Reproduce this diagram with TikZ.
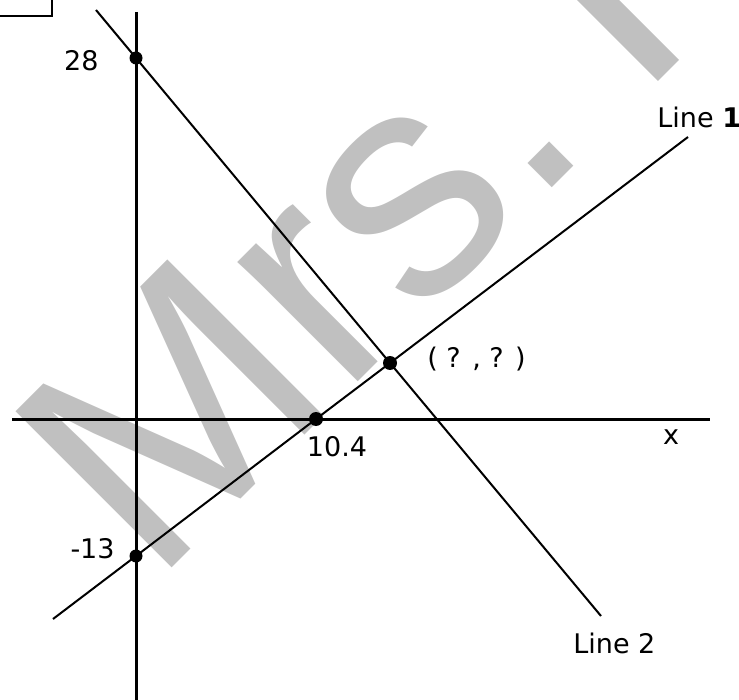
\documentclass[tikz,border=0pt]{standalone}
\usepackage{fontspec}
\setmainfont{DejaVu Sans}
\newfontfamily\markfont{Liberation Sans}
\usepackage{tikz}
\usetikzlibrary{positioning}
\definecolor{markGray}{RGB}{192,192,192}

\begin{document}
\begin{tikzpicture}[x=0.5pt, y=-0.5pt,
    dot/.style={circle, fill=black, inner sep=0pt, minimum size=6.5pt},
    lbl/.style={font=\fontsize{13.5}{16}\selectfont, inner sep=0pt},
    axis/.style={line width=1.5pt},
    graphline/.style={line width=1pt}]
  \useasboundingbox (0,0) rectangle (739,700);
  % Watermark
  \node[text=markGray, font=\markfont\fontsize{160.5}{160}\selectfont, inner sep=0pt,
    rotate=45, anchor=base west] (mark) at (153,587) {Mrs.\hspace{0.19em}I};
  % Corner box
  \draw[line width=1pt] (-5,-5) rectangle (52,16);
  % Axes
  \coordinate (ytop) at (136,12);
  \coordinate (ybot) at (136,700);
  \coordinate (xleft) at (12,419);
  \coordinate (xright) at (710,419);
  \draw[axis] (ytop) -- (ybot);
  \draw[axis] (xleft) -- (xright);
  % Points
  \node[dot] (d28) at (136,58) {};
  \node[dot] (dm13) at (136,556) {};
  \node[dot, minimum size=7pt] (d104) at (316,419) {};
  \node[dot, minimum size=7pt] (dq) at (390,363) {};
  % Lines
  \coordinate (l1s) at (53,619);
  \coordinate (l1e) at (688,137);
  \coordinate (l2s) at (96,10);
  \coordinate (l2e) at (601,616);
  \draw[graphline] (l1s) -- (dm13.center) -- (d104.center) -- (dq.center) -- (l1e);
  \draw[graphline] (l2s) -- (d28.center) -- (dq.center) -- (l2e);
  % Labels
  \node[lbl, anchor=east] (t28) at (99,61) {28};
  \node[lbl, anchor=east] (tm13) at (115,549) {-13};
  \node[lbl] (t104) at (337,447) {10.4};
  \node[lbl] (tx) at (671,437) {x};
  \node[lbl, anchor=west] (tq) at (427,359) {( ? , ? )};
  \node[lbl, anchor=west] (tl1) at (657,117) {Line \textbf{1}};
  \node[lbl, anchor=west] (tl2) at (573,643) {Line 2};
\end{tikzpicture}
\end{document}
